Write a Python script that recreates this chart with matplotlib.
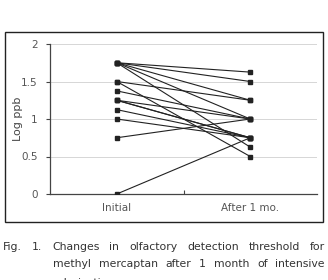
import matplotlib
matplotlib.use("Agg")
import matplotlib.pyplot as plt
from matplotlib.patches import Rectangle

# one entry per subject: log threshold at start and after 1 month
initial = [1.75, 1.75, 1.75, 1.75, 1.75, 1.5, 1.5, 1.375, 1.25, 1.25, 1.25, 1.125, 1.0, 0.75, 0.0]
after = [1.625, 1.5, 1.25, 1.0, 0.625, 1.25, 0.5, 1.0, 1.0, 0.75, 0.75, 0.75, 0.75, 1.0, 0.75]
categories = ["Initial", "After 1 mo."]
yticks = [0, 0.5, 1, 1.5, 2]
yticklabels = ["0", "0.5", "1", "1.5", "2"]

W, H = 328, 280
fig = plt.figure(figsize=(W / 100, H / 100), dpi=100)

# frame around the chart
fig.patches.append(Rectangle((5 / W, 1 - 222 / H), 318 / W, 190 / H,
                             transform=fig.transFigure, fill=False,
                             edgecolor="#222222", lw=1.0))

ax = fig.add_axes([50 / W, 1 - 194 / H, 267 / W, 150 / H])
for a, b in zip(initial, after):
    ax.plot([1, 2], [a, b], color="#222222", lw=0.8, marker="s", ms=2.2,
            mfc="#222222", mec="#222222", zorder=3)

ax.set_xlim(0.5, 2.5)
ax.set_ylim(0, 2)
ax.set_yticks(yticks)
ax.set_yticklabels(yticklabels)
ax.set_xticks([1.5])
ax.set_xticklabels([""])
ax.tick_params(axis="x", direction="in", length=3, color="#444444")
ax.tick_params(axis="y", direction="out", length=3, color="#444444",
               labelsize=7.5, labelcolor="#555555", pad=6)
for i, c in enumerate(categories):
    ax.text(i + 1, -0.12, c, ha="center", va="top", fontsize=7.5,
            color="#555555", transform=ax.transData)
ax.grid(axis="y", color="#d0d0d0", lw=0.6)
ax.set_axisbelow(True)
for s in ["top", "right"]:
    ax.spines[s].set_visible(False)
for s in ["left", "bottom"]:
    ax.spines[s].set_color("#444444")
    ax.spines[s].set_linewidth(0.9)
ax.set_ylabel("Log ppb", fontsize=8, color="#444444")
ax.yaxis.set_label_coords(-0.10, 0.5)

# caption, justified word by word between left and right limits
cap_font = dict(fontsize=7.8, color="#333333", va="baseline")
lines = [("Fig. 1. Changes in olfactory detection threshold for", 3, 325, 250),
         ("methyl mercaptan after 1 month of intensive", 53, 325, 267),
         ("odorization.", 53, None, 286)]
fig.canvas.draw()
r = fig.canvas.get_renderer()
for txt, x0, x1, y in lines:
    words = txt.split()
    objs = [fig.text(0, 1 - y / H, w, **cap_font) for w in words]
    widths = [o.get_window_extent(r).width for o in objs]
    if x1 is None or len(words) == 1:
        gap = 4
    else:
        gap = (x1 - x0 - sum(widths)) / (len(words) - 1)
    x = x0
    for o, w in zip(objs, widths):
        o.set_x(x / W)
        x += w + gap

fig.savefig("out.png", dpi=100)
